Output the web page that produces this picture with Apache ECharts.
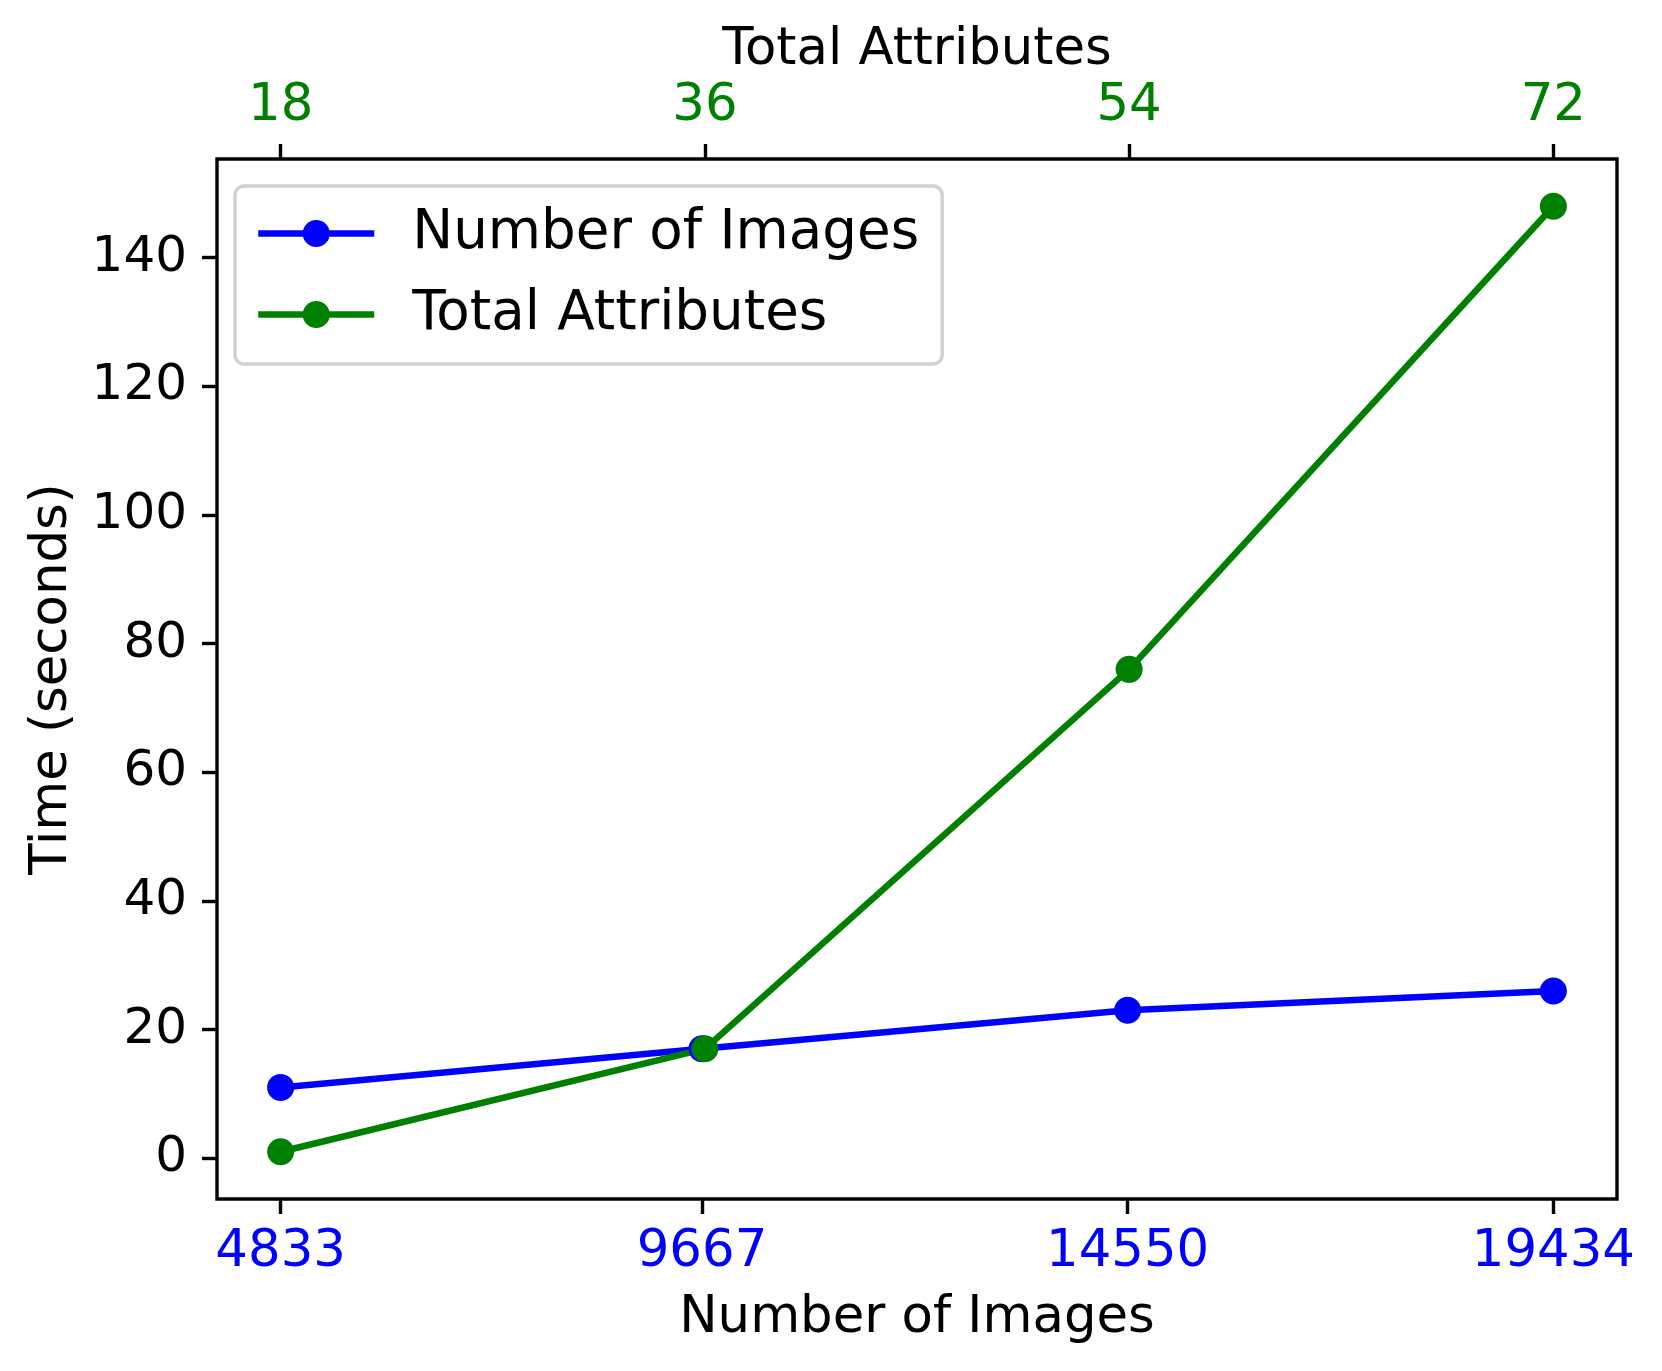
<!DOCTYPE html>
<html>
<head>
<meta charset="utf-8">
<script src="https://cdn.jsdelivr.net/npm/echarts@6/dist/echarts.min.js"></script>
<style>
html,body{margin:0;padding:0;background:#fff;}
#chart{width:1662px;height:1371px;}
</style>
</head>
<body>
<div id="chart"></div>
<script>
// Data
const imageCounts = [4833, 9667, 14550, 19434];
const imageTimes = [11, 17, 23, 26];
const attributeCounts = [18, 36, 54, 72];
const attributeTimes = [1, 17, 76, 148];
const yTicks = [0, 20, 40, 60, 80, 100, 120, 140];

function padRange(arr, frac) {
  const mn = Math.min(...arr), mx = Math.max(...arr);
  const d = (mx - mn) * frac;
  return [mn - d, mx + d];
}
const xBottomRange = padRange(imageCounts, 0.05);
const xTopRange = padRange(attributeCounts, 0.05);
const yRange = padRange(imageTimes.concat(attributeTimes), 0.05);

const FONT = 'DejaVu Sans';
const FS = 51.3;
const LFS = 54.7;
const LW = 6.5;
const MS = 27;
const chart = echarts.init(document.getElementById('chart'), null, {renderer: 'canvas'});

chart.setOption({
  animation: false,
  backgroundColor: '#ffffff',
  textStyle: {fontFamily: FONT},
  grid: {
    left: 217, top: 159, width: 1400, height: 1040,
    show: true, borderColor: '#000', borderWidth: 3.4, backgroundColor: 'transparent'
  },
  legend: {
    orient: 'vertical',
    left: 235, top: 186,
    padding: [20, 23, 22, 20],
    itemWidth: 116, itemHeight: 34, itemGap: 26,
    backgroundColor: 'rgba(255,255,255,0.8)',
    borderColor: '#d0d0d0', borderWidth: 3.4, borderRadius: 9,
    lineStyle: {width: LW},
    textStyle: {fontFamily: FONT, fontSize: LFS, color: '#000', lineHeight: 55, padding: [0, 0, 0, 33]},
    data: ['Number of Images', 'Total Attributes']
  },
  xAxis: [
    {
      type: 'value', position: 'bottom',
      min: xBottomRange[0], max: xBottomRange[1],
      name: 'Number of Images', nameLocation: 'middle', nameGap: 94,
      nameTextStyle: {fontFamily: FONT, fontSize: FS, color: '#000'},
      axisLine: {show: false, onZero: false},
      axisTick: {show: true, inside: false, length: 15, customValues: imageCounts, lineStyle: {color: '#000', width: 3.4}},
      axisLabel: {customValues: imageCounts, margin: 28, fontFamily: FONT, fontSize: FS, color: '#0000ff', formatter: v => String(v), showMinLabel: true, showMaxLabel: true},
      splitLine: {show: false}
    },
    {
      type: 'value', position: 'top',
      min: xTopRange[0], max: xTopRange[1],
      name: 'Total Attributes', nameLocation: 'middle', nameGap: 80,
      nameTextStyle: {fontFamily: FONT, fontSize: FS, color: '#000'},
      axisLine: {show: false, onZero: false},
      axisTick: {show: true, inside: false, length: 15, customValues: attributeCounts, lineStyle: {color: '#000', width: 3.4}},
      axisLabel: {customValues: attributeCounts, margin: 27, fontFamily: FONT, fontSize: FS, color: '#008000', formatter: v => String(v)},
      splitLine: {show: false}
    }
  ],
  yAxis: {
    type: 'value',
    min: yRange[0], max: yRange[1],
    name: 'Time (seconds)', nameLocation: 'middle', nameGap: 139,
    nameTextStyle: {fontFamily: FONT, fontSize: FS, color: '#000'},
    axisLine: {show: false, onZero: false},
    axisTick: {show: true, inside: false, length: 15, customValues: yTicks, lineStyle: {color: '#000', width: 3.4}},
    axisLabel: {customValues: yTicks, margin: 30, fontFamily: FONT, fontSize: 50, color: '#000'},
    splitLine: {show: false}
  },
  series: [
    {
      name: 'Number of Images', type: 'line', xAxisIndex: 0,
      data: imageCounts.map((x, i) => [x, imageTimes[i]]),
      symbol: 'circle', symbolSize: MS,
      lineStyle: {color: '#0000ff', width: LW},
      itemStyle: {color: '#0000ff'}
    },
    {
      name: 'Total Attributes', type: 'line', xAxisIndex: 1,
      data: attributeCounts.map((x, i) => [x, attributeTimes[i]]),
      symbol: 'circle', symbolSize: MS,
      lineStyle: {color: '#008000', width: LW},
      itemStyle: {color: '#008000'}
    }
  ]
});
</script>
</body>
</html>
